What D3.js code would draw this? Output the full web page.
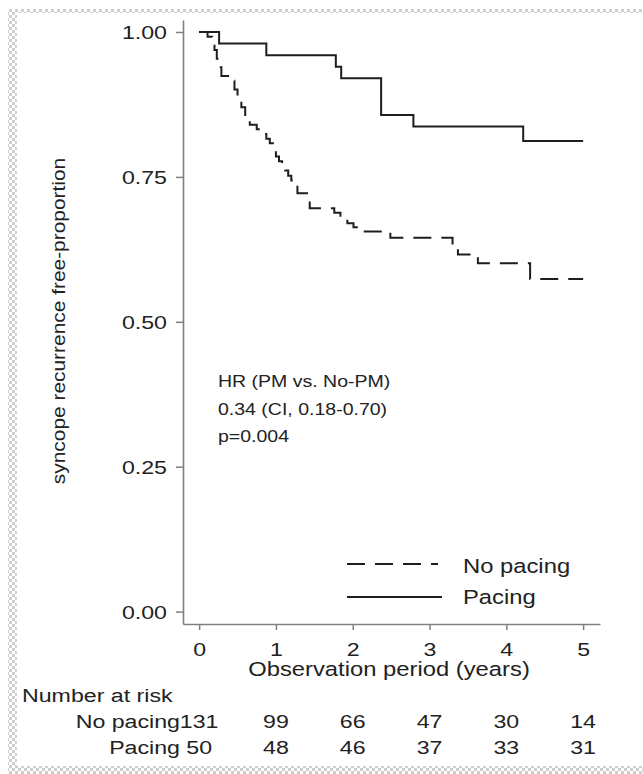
<!DOCTYPE html>
<html>
<head>
<meta charset="utf-8">
<script src="https://cdn.jsdelivr.net/npm/d3@7"></script>
<style>
  body { margin: 0; background: #fff; }
  svg text { font-family: "Liberation Sans", Arial, sans-serif; fill: #222; }
</style>
</head>
<body>
<div id="chart"></div>
<script>
// Kaplan-Meier step data (time in years, survival proportion)
const pacingTime = [0, 0.26, 0.875, 1.78, 1.85, 2.37, 2.79, 4.22, 5.0];
const pacingSurv = [1.0, 0.98, 0.96, 0.94, 0.92, 0.857, 0.837, 0.812, 0.812];

const noPacingTime = [0, 0.11, 0.17, 0.20, 0.23, 0.26, 0.29, 0.42, 0.46, 0.50, 0.55, 0.60, 0.66,
  0.75, 0.80, 0.875, 0.92, 0.96, 1.00, 1.04, 1.08, 1.12, 1.16, 1.20, 1.24, 1.28, 1.44,
  1.76, 1.84, 1.93, 2.01, 2.09, 2.49, 3.30, 3.37, 3.63, 4.31, 5.0];
const noPacingSurv = [1.0, 0.992, 0.981, 0.969, 0.954, 0.939, 0.924, 0.916, 0.901, 0.886, 0.870, 0.855, 0.840,
  0.832, 0.824, 0.816, 0.808, 0.800, 0.785, 0.777, 0.769, 0.761, 0.752, 0.744, 0.735, 0.722, 0.696,
  0.688, 0.679, 0.670, 0.663, 0.656, 0.645, 0.631, 0.616, 0.601, 0.574, 0.574];

const xTicks = [0, 1, 2, 3, 4, 5];
const yTicks = [0, 0.25, 0.5, 0.75, 1];

const riskTimes = [0, 1, 2, 3, 4, 5];
const riskNoPacing = [131, 99, 66, 47, 30, 14];
const riskPacing = [50, 48, 46, 37, 33, 31];

const groupNames = ["No pacing", "Pacing"];
const annotation = ["HR (PM vs. No-PM)", "0.34 (CI, 0.18-0.70)", "p=0.004"];

const W = 643, H = 774;
const SX = 1.22; // the source text is horizontally stretched

const svg = d3.select("#chart").append("svg")
  .attr("width", W)
  .attr("height", H);

// checkered frame
const defs = svg.append("defs");
const pat = defs.append("pattern")
  .attr("id", "checker")
  .attr("width", 6).attr("height", 6)
  .attr("patternUnits", "userSpaceOnUse");
pat.append("rect").attr("width", 6).attr("height", 6).attr("fill", "#fff");
pat.append("rect").attr("width", 3).attr("height", 3).attr("fill", "#cfcfcf");
pat.append("rect").attr("x", 3).attr("y", 3).attr("width", 3).attr("height", 3).attr("fill", "#cfcfcf");

svg.append("rect").attr("x", 8).attr("y", 9).attr("width", W - 8).attr("height", 4).attr("fill", "url(#checker)");
svg.append("rect").attr("x", 8).attr("y", 9).attr("width", 9).attr("height", H - 9).attr("fill", "url(#checker)");
svg.append("rect").attr("x", 8).attr("y", 766).attr("width", W - 8).attr("height", 8).attr("fill", "url(#checker)");

// scales
const x = d3.scaleLinear().domain([-0.21, 5.22]).range([183, 600]);
const y = d3.scaleLinear().domain([-0.0214, 1.0207]).range([624, 20]);

// helper for stretched text
function sText(g, tx, ty, str, size, anchor) {
  return g.append("text")
    .attr("transform", `translate(${tx},${ty}) scale(${SX},1)`)
    .attr("font-size", size)
    .attr("text-anchor", anchor || "start")
    .text(str);
}

// y axis
const yAxis = svg.append("g")
  .attr("transform", `translate(${x.range()[0]},0)`)
  .call(d3.axisLeft(y).tickValues(yTicks).tickFormat(d3.format(".2f")).tickSize(7).tickSizeOuter(0));
yAxis.select(".domain").attr("stroke", "#808080").attr("stroke-width", 1.6);
yAxis.selectAll(".tick line").attr("stroke", "#808080").attr("stroke-width", 1.5);
yAxis.selectAll(".tick text")
  .attr("x", null).attr("dy", null)
  .attr("transform", `translate(-16,7) scale(${SX},1)`)
  .attr("font-size", 19)
  .attr("font-family", null)
  .attr("fill", null);

// x axis
const xAxis = svg.append("g")
  .attr("transform", `translate(0,${y.range()[0]})`)
  .call(d3.axisBottom(x).tickValues(xTicks).tickFormat(d3.format("d")).tickSize(6).tickSizeOuter(0));
xAxis.select(".domain").attr("stroke", "#808080").attr("stroke-width", 1.6);
xAxis.selectAll(".tick line").attr("stroke", "#808080").attr("stroke-width", 1.5);
xAxis.selectAll(".tick text")
  .attr("y", null).attr("dy", null)
  .attr("transform", `translate(0,32) scale(${SX},1)`)
  .attr("font-size", 19)
  .attr("font-family", null)
  .attr("fill", null);

// axis titles
sText(svg, 389, 676, "Observation period (years)", 19.5, "middle");
svg.append("text")
  .attr("transform", `translate(65,321) rotate(-90) scale(${SX * 0.98},1)`)
  .attr("font-size", 17.5)
  .attr("text-anchor", "middle")
  .text("syncope recurrence free-proportion");

// survival curves
const line = d3.line()
  .x(d => x(d[0]))
  .y(d => y(d[1]))
  .curve(d3.curveStepAfter);

svg.append("path")
  .datum(d3.zip(pacingTime, pacingSurv))
  .attr("fill", "none")
  .attr("stroke", "#1e1e1e")
  .attr("stroke-width", 2)
  .attr("d", line);

svg.append("path")
  .datum(d3.zip(noPacingTime, noPacingSurv))
  .attr("fill", "none")
  .attr("stroke", "#1e1e1e")
  .attr("stroke-width", 2)
  .attr("stroke-dasharray", "18,10")
  .attr("d", line);

// HR annotation
annotation.forEach((s, i) => sText(svg, 218, 387 + i * 27.5, s, 16));

// legend
const legend = svg.append("g");
legend.append("line")
  .attr("x1", 347).attr("x2", 438).attr("y1", 564).attr("y2", 564)
  .attr("stroke", "#1e1e1e").attr("stroke-width", 2).attr("stroke-dasharray", "18,10");
legend.append("line")
  .attr("x1", 347).attr("x2", 442).attr("y1", 597).attr("y2", 597)
  .attr("stroke", "#1e1e1e").attr("stroke-width", 2);
sText(legend, 463, 573, groupNames[0], 19.5);
sText(legend, 463, 604, groupNames[1], 19.5);

// number at risk table
const risk = svg.append("g");
sText(risk, 22, 702, "Number at risk", 19);
sText(risk, 180, 728, groupNames[0], 19, "end");
sText(risk, 180, 754, groupNames[1], 19, "end");
riskTimes.forEach((t, i) => {
  sText(risk, x(t), 728, riskNoPacing[i], 19, "middle");
  sText(risk, x(t), 754, riskPacing[i], 19, "middle");
});
</script>
</body>
</html>
